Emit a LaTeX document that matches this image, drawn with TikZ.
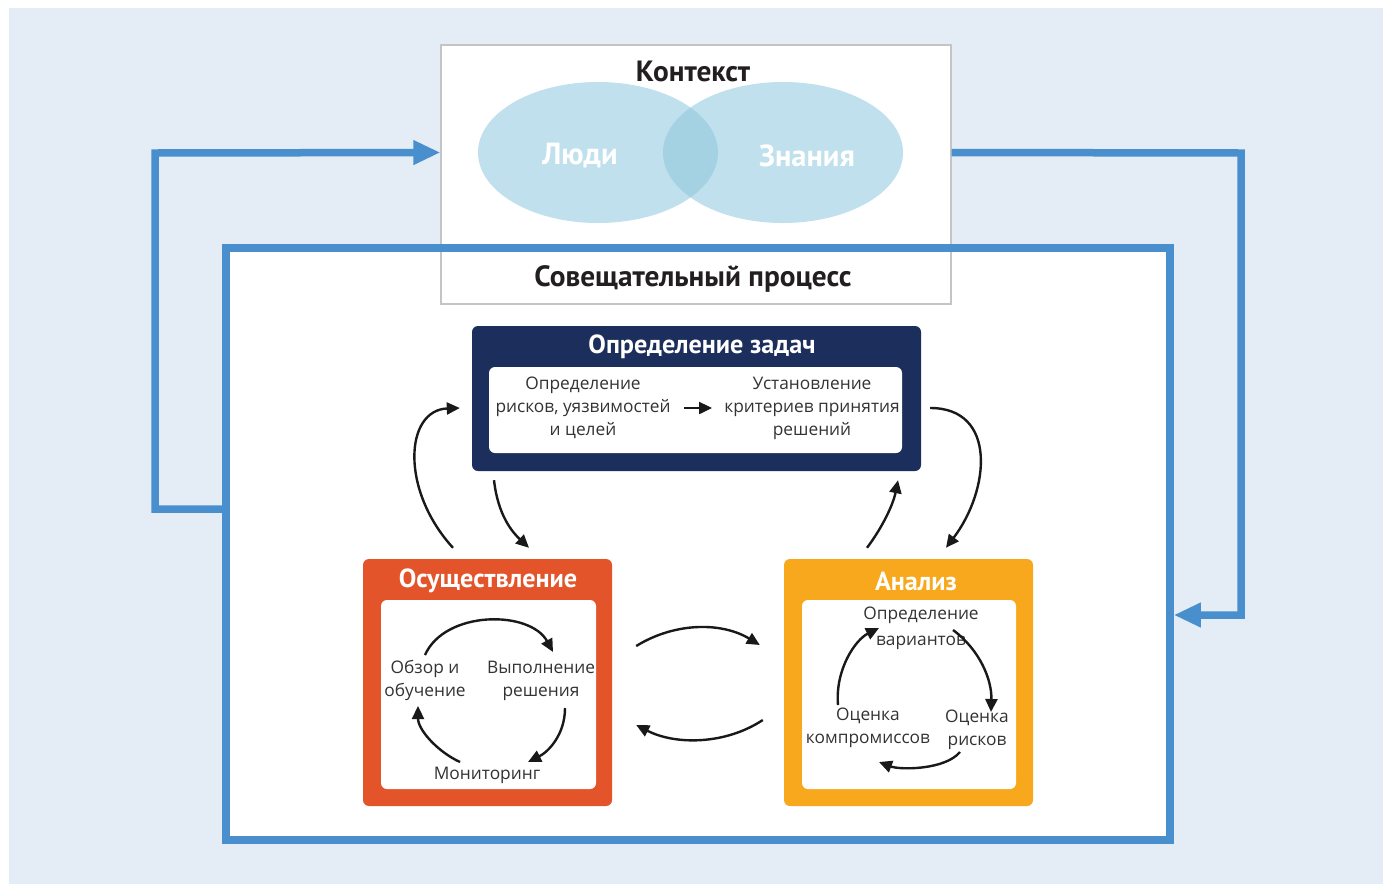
\documentclass[tikz,border=0pt]{standalone}
\usepackage{fontspec}
\setmainfont{Open Sans}
\newfontfamily\headfont{PT Sans}
\usetikzlibrary{shapes.geometric,arrows.meta,calc}
\definecolor{bgc}{HTML}{E4ECF6}
\definecolor{bluel}{HTML}{4A8FCD}
\definecolor{ellc}{HTML}{BFE0EC}
\definecolor{ovc}{HTML}{A4D2E3}
\definecolor{navy}{HTML}{1C2E5B}
\definecolor{orng}{HTML}{E3542A}
\definecolor{yelw}{HTML}{F7A81D}
\definecolor{txtd}{HTML}{231F20}
\definecolor{txtb}{HTML}{333333}
\definecolor{grayb}{HTML}{C4C4C4}
\tikzset{
  title/.style={font=\headfont\bfseries\fontsize{26.2}{30}\selectfont, text=white, inner sep=0pt},
  bigt/.style={font=\headfont\bfseries\fontsize{29.3}{32}\selectfont, text=txtd, inner sep=0pt},
  elt/.style={font=\headfont\bfseries\fontsize{30.5}{34}\selectfont, text=white, inner sep=0pt},
  body/.style={font=\fontsize{17.3}{23}\selectfont, text=txtb, align=center, inner sep=0pt},
  blk/.style={draw=black!90, line width=2.4pt, -{Triangle[length=13pt,width=12pt]}},
  bluearrow/.style={draw=bluel, line width=7.5pt, -{Triangle[length=27pt,width=23pt]}}
}
\begin{document}
\begin{tikzpicture}[x=1pt,y=-1pt]
\useasboundingbox (0,0) rectangle (1383,884);
\fill[bgc] (9,8) rectangle (1383,884);

% deliberative frame (fill)
\node[rectangle, fill=white, minimum width=944pt, minimum height=592pt, inner sep=0pt, outer sep=0pt] (frame) at (698,544) {};

% context box
\node[rectangle, draw=grayb, line width=1.2pt, fill=white, minimum width=510pt, minimum height=259pt, inner sep=0pt] (ctx) at (696,174.5) {};
\node[ellipse, fill=ellc, minimum width=240pt, minimum height=141pt, inner sep=0pt] (lp) at (598,152.5) {};
\node[ellipse, fill=ellc, minimum width=240pt, minimum height=141pt, inner sep=0pt] (kn) at (783,152.5) {};
\begin{scope}
  \clip (598,152.5) ellipse [x radius=120, y radius=70.5];
  \fill[ovc] (783,152.5) ellipse [x radius=120, y radius=70.5];
\end{scope}
\node[bigt] (ctxt) at (693,71) {Контекст};
\node[elt] (lpt) at (580,156) {Люди};
\node[elt] (knt) at (807,156) {Знания};

% deliberative frame (border on top)
\draw[bluel, line width=7.5pt] (frame.north west) rectangle (frame.south east);
\node[bigt] (sovt) at (693,279) {Совещательный процесс};

% loops
\draw[bluearrow] (frame.west |- 0,509) -- (155,509) -- (155,153) -- (ctx.west |- lp.center);
\draw[bluearrow] (ctx.east |- kn.center) -- (1241,153) -- (1241,615) -- ([xshift=3.75pt]frame.east |- 0,615);

% task definition
\node[rectangle, fill=navy, rounded corners=6pt, minimum width=449pt, minimum height=145pt, inner sep=0pt] (nav) at (696.5,398.5) {};
\node[rectangle, fill=white, rounded corners=6pt, minimum width=413pt, minimum height=86pt, inner sep=0pt] (navin) at (695.5,410) {};
\node[title] (navt) at (702,347) {Определение задач};
\node[body] (navl) at (583,408) {Определение\\рисков, уязвимостей\\и целей};
\node[body] (navr) at (812,408) {Установление\\критериев принятия\\решений};
\draw[blk] ($(navin.center)+(-11.5,-2)$) -- ($(navin.center)+(16.5,-2)$);

% implementation
\node[rectangle, fill=orng, rounded corners=6pt, minimum width=249pt, minimum height=247pt, inner sep=0pt] (osu) at (487.5,682.5) {};
\node[rectangle, fill=white, rounded corners=6pt, minimum width=215pt, minimum height=189pt, inner sep=0pt] (osuin) at (488.5,694.5) {};
\node[title] (osut) at (488,581) {Осуществление};
\node[body] (obz) at (425,680.5) {Обзор и\\обучение};
\node[body] (vyp) at (541,680.5) {Выполнение\\решения};
\node[body] (mon) at (487,775) {Мониторинг};

% analysis
\node[rectangle, fill=yelw, rounded corners=6pt, minimum width=249pt, minimum height=247pt, inner sep=0pt] (ana) at (908.5,682.5) {};
\node[rectangle, fill=white, rounded corners=6pt, minimum width=214pt, minimum height=189pt, inner sep=0pt] (anain) at (909,694.5) {};
\node[title] (anat) at (916,581) {Анализ};
\node[body, font=\fontsize{17.3}{26}\selectfont] (opr) at (921,628) {Определение\\вариантов};
\node[body] (ocr) at (977,730) {Оценка\\рисков};
\node[body] (ock) at (868,728) {Оценка\\компромиссов};

% outer black arrows
\draw[blk] ($(osu.north)+(-34.5,-11)$) .. controls +(-53,-58) and +(-55,2) .. ($(nav.west)+(-12,9.5)$);
\draw[blk] ($(nav.south)+(-202.5,9)$) .. controls +(4,35) and +(-17,-16) .. ($(osu.north)+(41.5,-11)$);
\draw[blk] ($(ana.north)+(-41.5,-11)$) .. controls +(15,-20) and +(-5,25) .. ($(nav.south)+(201.5,9)$);
\draw[blk] ($(nav.east)+(9,9.5)$) .. controls +(67,0) and +(44,-58) .. ($(ana.north)+(37.5,-11)$);
\draw[blk] ($(osu.east)+(24,-36.5)$) .. controls +(39,-24) and +(-38,-23) .. ($(ana.west)+(-24,-37.5)$);
\draw[blk] ($(ana.west)+(-21,37.5)$) .. controls +(-38,25) and +(39,20) .. ($(osu.east)+(24,42.5)$);

% inner cycle implementation
\draw[blk] ($(osuin.center)+(-63.5,-39.5)$) .. controls +(20,-45) and +(-23,-42) .. ($(osuin.center)+(64.5,-42.5)$);
\draw[blk] ($(osuin.center)+(76.5,13.5)$) .. controls +(0,27) and +(20,-10) .. ($(osuin.center)+(39.5,67.5)$);
\draw[blk] ($(osuin.center)+(-28.5,67.5)$) .. controls +(-22,-10) and +(0,24) .. ($(osuin.center)+(-70.5,11.5)$);

% inner cycle analysis
\draw[blk] ($(anain.center)+(44,-64.5)$) .. controls +(27,20) and +(1,-32) .. ($(anain.center)+(82,17.5)$);
\draw[blk] ($(anain.center)+(51,57.5)$) .. controls +(-15,18) and +(21,8) .. ($(anain.center)+(-30,67.5)$);
\draw[blk] ($(anain.center)+(-71,10.5)$) .. controls +(-3,-35) and +(-24,12) .. ($(anain.center)+(-30,-66.5)$);
\end{tikzpicture}
\end{document}
